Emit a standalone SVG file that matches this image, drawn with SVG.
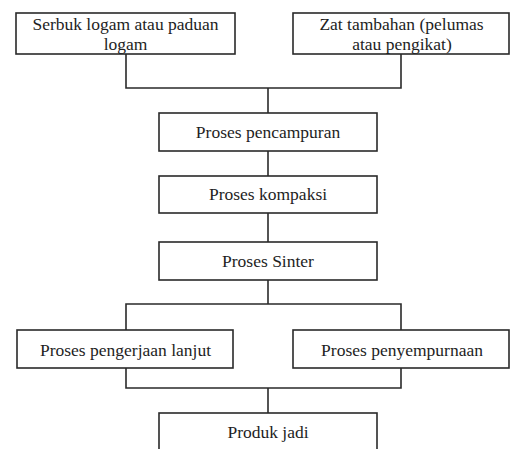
<svg xmlns="http://www.w3.org/2000/svg" width="510" height="449" viewBox="0 0 510 449">
<defs>
<style>
.box{fill:#fff;stroke:#2a2a2a;stroke-width:1.6}
.conn{fill:none;stroke:#2a2a2a;stroke-width:1.6}
.lbl{font-family:"Liberation Serif",serif;font-size:17.5px;fill:#1e1e1e;text-anchor:middle}
</style>
</defs>
<rect width="510" height="449" fill="#fff"/>
<g id="connectors">
<polyline class="conn" points="126,54 126,88 401,88 401,54"/>
<line class="conn" x1="268" y1="88" x2="268" y2="113"/>
<line class="conn" x1="268" y1="151" x2="268" y2="176"/>
<line class="conn" x1="268" y1="213" x2="268" y2="242"/>
<line class="conn" x1="268" y1="280" x2="268" y2="304"/>
<polyline class="conn" points="126,330 126,304 401,304 401,330"/>
<polyline class="conn" points="126,368 126,388 401,388 401,368"/>
<line class="conn" x1="268" y1="388" x2="268" y2="413"/>
</g>
<g id="n1"><rect class="box" x="16" y="13" width="219" height="41"/><text class="lbl" x="125.5" y="30">Serbuk logam atau paduan</text><text class="lbl" x="125.5" y="50">logam</text></g>
<g id="n2"><rect class="box" x="293" y="13" width="216" height="41"/><text class="lbl" x="401.5" y="30">Zat tambahan (pelumas</text><text class="lbl" x="402" y="50">atau pengikat)</text></g>
<g id="n3"><rect class="box" x="159" y="113" width="218" height="38"/><text class="lbl" x="268" y="138">Proses pencampuran</text></g>
<g id="n4"><rect class="box" x="159" y="176" width="218" height="37"/><text class="lbl" x="268" y="200">Proses kompaksi</text></g>
<g id="n5"><rect class="box" x="159" y="242" width="218" height="38"/><text class="lbl" x="268" y="267">Proses Sinter</text></g>
<g id="n6"><rect class="box" x="17" y="330" width="216" height="38"/><text class="lbl" x="125.5" y="356">Proses pengerjaan lanjut</text></g>
<g id="n7"><rect class="box" x="293" y="330" width="216" height="38"/><text class="lbl" x="402" y="356">Proses penyempurnaan</text></g>
<g id="n8"><rect class="box" x="159" y="413" width="218" height="40"/><text class="lbl" x="268" y="438">Produk jadi</text></g>
</svg>
